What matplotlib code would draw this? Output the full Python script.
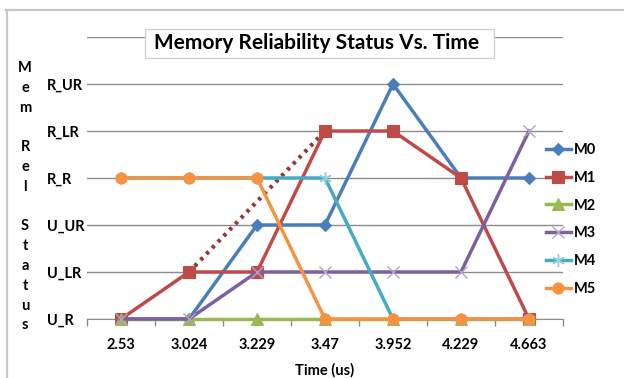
import matplotlib
matplotlib.use("Agg")
import matplotlib.pyplot as plt
from matplotlib.lines import Line2D
from matplotlib.patches import Rectangle

# Time stamps (categorical axis) and reliability levels
times = ["2.53", "3.024", "3.229", "3.47", "3.952", "4.229", "4.663"]
levels = ["U_R", "U_LR", "U_UR", "R_R", "R_LR", "R_UR"]

# Status of each memory module, as an index into `levels`
m0 = [0, 0, 2, 2, 5, 3, 3]
m1 = [0, 1, 1, 4, 4, 3, 0]
m2 = [0, 0, 0, 0, 0, 0, 0]
m3 = [0, 0, 1, 1, 1, 1, 4]
m4 = [3, 3, 3, 3, 0, 0, 0]
m5 = [3, 3, 3, 0, 0, 0, 0]

series_names = ["M0", "M1", "M2", "M3", "M4", "M5"]
series_values = [m0, m1, m2, m3, m4, m5]
colors = ["#4A7EBB", "#BE4B48", "#98B954", "#7D60A0", "#46AAC5", "#F69240"]
edge_colors = ["#4A7EBB", "#BE4B48", "#98B954", "#B3A2C7", "#93CDDD", "#F69240"]
markers = ["D", "s", "^", "x", (6, 2, 0), "o"]
msizes = [6.5, 8, 8, 9, 9, 8]

# Dotted projection on M1 between these two time indices
trend_idx = [1, 3]

W, H = 624, 378
fig = plt.figure(figsize=(W / 100, H / 100), dpi=100)
font = ["Lato", "DejaVu Sans"]

# outer chart frame (top and left edges)
fig.add_artist(Line2D([6 / W, 1.0], [1 - 10 / H, 1 - 10 / H], color="#C8C8C8", lw=1.6))
fig.add_artist(Line2D([7 / W, 7 / W], [0, 1 - 10 / H], color="#C8C8C8", lw=1.6))

left, right, top, bottom = 87, 563, 37, 319
ax = fig.add_axes([left / W, (H - bottom) / H, (right - left) / W, (bottom - top) / H])

x = list(range(len(times)))
for name, vals, c, ec, mk, ms in zip(series_names, series_values, colors, edge_colors,
                                     markers, msizes):
    thin = mk == "x" or isinstance(mk, tuple)
    ax.plot(x, vals, color=c, lw=2.5, marker=mk, markersize=ms,
            markerfacecolor=ec if not thin else "none",
            markeredgecolor=ec, markeredgewidth=1.0 if thin else 0.8,
            label=name, zorder=3, clip_on=False)

ax.plot([x[i] for i in trend_idx], [m1[i] for i in trend_idx], color="#953735",
        lw=3, linestyle=(0, (0.8, 1.2)), zorder=2.5)

ax.set_xlim(-0.5, len(times) - 0.5)
ax.set_ylim(0, 6)
ax.set_yticks(range(len(levels) + 1))
ax.set_yticklabels(levels + [""])
ax.yaxis.grid(True, color="#8C8C8C", lw=1)
ax.set_axisbelow(True)
ax.set_xticks(x)
ax.set_xticklabels(times)
ax.set_xticks([i - 0.5 for i in range(len(times) + 1)], minor=True)
ax.tick_params(axis="x", which="major", length=0, pad=14)
ax.tick_params(axis="x", which="minor", length=5, color="#8C8C8C", width=1)
ax.tick_params(axis="y", length=0, pad=29)
for lab in ax.get_yticklabels():
    lab.set_horizontalalignment("left")
    lab.set_fontfamily(font)
    lab.set_fontweight("bold")
    lab.set_fontsize(10.5)
for lab in ax.get_xticklabels():
    lab.set_fontfamily(font)
    lab.set_fontweight("bold")
    lab.set_fontsize(10.5)
for s in ("top", "right", "left"):
    ax.spines[s].set_visible(False)
ax.spines["bottom"].set_color("#8C8C8C")

ax.set_xlabel("Time (us)", fontfamily=font, fontweight="bold", fontsize=10.5, labelpad=8)

# vertically stacked axis caption
caption = "Mem Rel Status"
ypos = 68
for ch in caption:
    if ch != " ":
        fig.text(25 / W, 1 - ypos / H, ch, ha="center", va="center",
                 fontfamily=font, fontweight="bold", fontsize=10.5)
    ypos += 19.8

# title in a framed box
fig.add_artist(Rectangle((145 / W, 1 - 58 / H), 349 / W, 29 / H, facecolor="white",
                         edgecolor="#D0D0D0", lw=1, transform=fig.transFigure, zorder=5))
fig.text(317 / W, 1 - 43 / H, "Memory Reliability Status Vs. Time", ha="center", va="center",
         fontfamily=font, fontweight="bold", fontsize=15, zorder=6)

# legend
handles, labels = ax.get_legend_handles_labels()
leg = fig.legend(handles, labels, loc="upper left", bbox_to_anchor=(540 / W, 1 - 137 / H),
                 frameon=False, prop={"family": font, "weight": "bold", "size": 10.5},
                 handlelength=1.7, handletextpad=0.25, labelspacing=0.95, borderaxespad=0)

fig.savefig("out.png", dpi=100)
